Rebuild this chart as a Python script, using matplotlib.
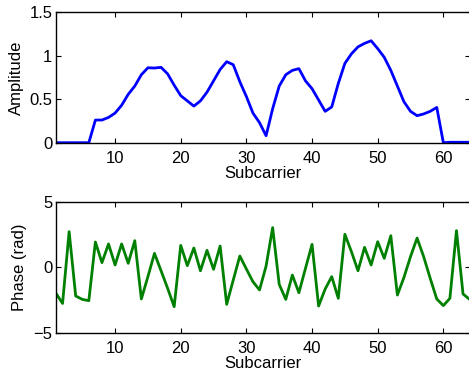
import matplotlib
matplotlib.use("Agg")
import matplotlib.pyplot as plt
import numpy as np

plt.rcParams['font.family'] = ['Liberation Sans', 'DejaVu Sans']

subcarrier = np.arange(1, 65)
amplitude = [0, 0, 0, 0, 0, 0, 0.26, 0.26, 0.29, 0.34,
             0.43, 0.555, 0.65, 0.78, 0.86, 0.857, 0.865, 0.79, 0.66, 0.54,
             0.48, 0.42, 0.48, 0.58, 0.71, 0.84, 0.93, 0.895, 0.70, 0.53,
             0.34, 0.23, 0.08, 0.39, 0.65, 0.78, 0.83, 0.85, 0.71, 0.62,
             0.49, 0.36, 0.41, 0.68, 0.91, 1.02, 1.10, 1.14, 1.17, 1.08,
             0.98, 0.83, 0.65, 0.47, 0.36, 0.31, 0.33, 0.36, 0.405, 0.0,
             0.005, 0.005, 0.005, 0.005]
phase = [-1.99, -2.76, 2.73, -2.19, -2.45, -2.55, 1.94, 0.36, 1.79, 0.18,
         1.79, 0.31, 2.04, -2.42, -0.71, 1.07, -0.26, -1.6, -3.01, 1.68,
         0.13, 1.48, -0.26, 1.30, -0.15, 1.63, -2.83, -0.97, 0.87, -0.13,
         -1.1, -1.73, 0.1, 3.04, -1.3, -2.45, -0.59, -1.94, -0.08, 1.76,
         -2.96, -1.66, -0.71, -2.37, 2.53, 1.2, -0.26, 1.53, 0.18, 1.96,
         0.69, 2.42, -2.12, -0.77, 0.82, 2.24, 0.82, -0.84, -2.42, -2.93,
         -2.37, 2.81, -2.04, -2.45]

xticks = [10, 20, 30, 40, 50, 60]
amp_yticks = [0, 0.5, 1, 1.5]
amp_yticklabels = ['0', '0.5', '1', '1.5']
ph_yticks = [-5, 0, 5]
ph_yticklabels = ['\u22125', '0', '5']

W, H = 469, 375
fig = plt.figure(figsize=(W / 100, H / 100), dpi=100)

left = 56 / W
width = (469.6 - 56) / W
ax1 = fig.add_axes([left, 1 - 142.7 / H, width, 130.7 / H])
ax2 = fig.add_axes([left, 1 - 332.7 / H, width, 130.7 / H])

fs = 12
for ax in (ax1, ax2):
    ax.set_xlim(1, 64)
    ax.set_xticks(xticks)
    ax.tick_params(direction='in', top=True, right=True, length=3.5,
                   width=0.8, labelsize=fs)
    ax.tick_params(axis='x', pad=6)
    ax.tick_params(axis='y', pad=2.7)
    for s in ax.spines.values():
        s.set_linewidth(1.0)
    ax.set_xlabel('Subcarrier', fontsize=fs, labelpad=0)

ax1.plot(subcarrier, amplitude, color='#0000ff', linewidth=2.0)
ax1.set_ylim(0, 1.5)
ax1.set_yticks(amp_yticks)
ax1.set_yticklabels(amp_yticklabels)
ax1.set_ylabel('Amplitude', fontsize=fs, labelpad=4)

ax2.plot(subcarrier, phase, color='#008000', linewidth=2.0)
ax2.set_ylim(-5, 5)
ax2.set_yticks(ph_yticks)
ax2.set_yticklabels(ph_yticklabels)
ax2.set_ylabel('Phase (rad)', fontsize=fs, labelpad=4.5)

fig.savefig('out.png', dpi=100)
